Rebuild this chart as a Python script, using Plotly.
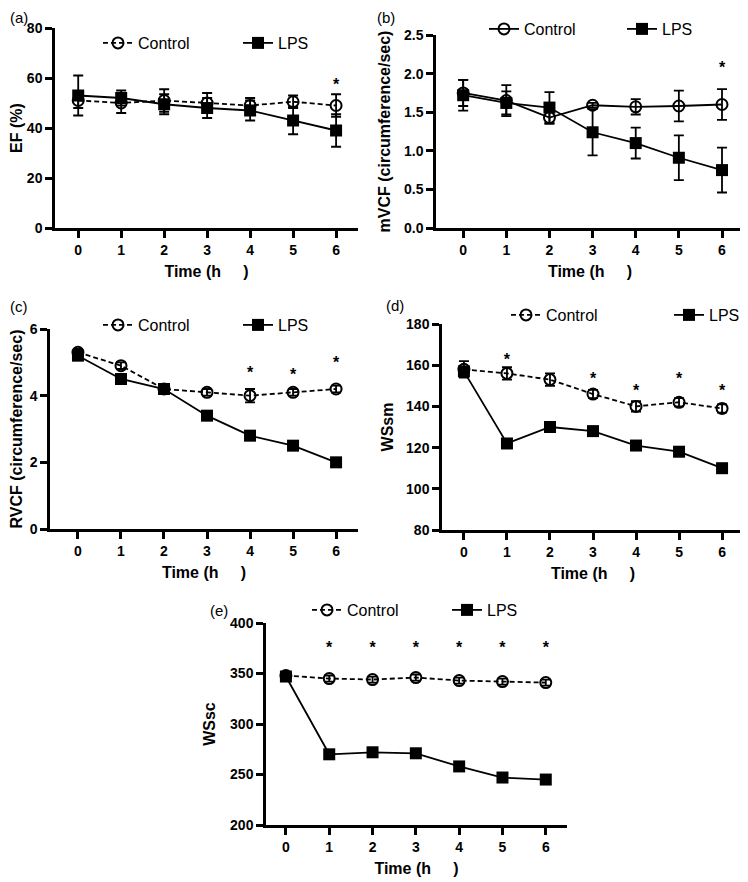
import plotly.graph_objects as go

hours = [0, 1, 2, 3, 4, 5, 6]

# (a) EF
ef_control = [51, 50, 51, 50, 49, 50.5, 49]
ef_control_err = [3, 4, 4.5, 4, 3, 2.5, 4.5]
ef_lps = [53, 52, 49.5, 48, 47, 43, 39]
ef_lps_err = [8, 3, 4, 4, 4, 5.5, 6.5]
ef_star_x = [6]
ef_star_y = [57]

# (b) mVCF
mvcf_control = [1.75, 1.65, 1.43, 1.59, 1.57, 1.58, 1.60]
mvcf_control_err = [0.17, 0.2, 0.08, 0.03, 0.1, 0.2, 0.2]
mvcf_lps = [1.72, 1.62, 1.56, 1.24, 1.10, 0.91, 0.75]
mvcf_lps_err = [0.2, 0.15, 0.2, 0.3, 0.2, 0.29, 0.29]
mvcf_star_x = [6]
mvcf_star_y = [2.06]

# (c) RVCF
rvcf_control = [5.3, 4.9, 4.2, 4.1, 4.0, 4.1, 4.2]
rvcf_control_err = [0.1, 0.1, 0.1, 0.1, 0.2, 0.1, 0.1]
rvcf_lps = [5.2, 4.5, 4.2, 3.4, 2.8, 2.5, 2.0]
rvcf_lps_err = [0.1, 0.1, 0.1, 0.1, 0.1, 0.1, 0.1]
rvcf_star_x = [4, 5, 6]
rvcf_star_y = [4.65, 4.6, 4.95]

# (d) WSsm
wssm_control = [158, 156, 153, 146, 140, 142, 139]
wssm_control_err = [4, 3, 3, 2, 2.5, 2, 2]
wssm_lps = [157, 122, 130, 128, 121, 118, 110]
wssm_lps_err = [2, 2, 2, 2, 2, 2, 2]
wssm_star_x = [1, 3, 4, 5, 6]
wssm_star_y = [162, 153, 147, 153, 147]

# (e) WSsc
wssc_control = [348, 345, 344, 346, 343, 342, 341]
wssc_control_err = [3, 3, 3, 3, 3, 3, 3]
wssc_lps = [347, 270, 272, 271, 258, 247, 245]
wssc_lps_err = [3, 3, 3, 3, 3, 3, 3]
wssc_star_x = [1, 2, 3, 4, 5, 6]
wssc_star_y = [374, 374, 374, 374, 374, 374]

# page has an 8px body margin, so the figure is a bit smaller than the window
PAD = 8
W, H = 748 - PAD, 882 - PAD
FONT = "Arial, Liberation Sans, sans-serif"


def px_x(v):
    return (v - PAD) / W


def px_y(v):
    return 1 - (v - PAD) / H


# box = axis pixels (left, right, top, bottom); leg = (control text x, lps text x, y)
panels = [
    dict(label="(a)", ytitle="EF (%)", control=ef_control, control_err=ef_control_err,
         lps=ef_lps, lps_err=ef_lps_err, star_x=ef_star_x, star_y=ef_star_y,
         yrange=[0, 80], dtick=20, fmt="", dashed=True,
         box=(55, 358, 28, 228), xrange=[-0.54, 6.51], ystand=10,
         leg=(138, 278, 43), lab=(8, 17)),
    dict(label="(b)", ytitle="mVCF (circumference/sec)", control=mvcf_control, control_err=mvcf_control_err,
         lps=mvcf_lps, lps_err=mvcf_lps_err, star_x=mvcf_star_x, star_y=mvcf_star_y,
         yrange=[0, 2.5], dtick=0.5, fmt=".1f", dashed=False,
         box=(436, 744, 35, 228), xrange=[-0.63, 6.51], ystand=10,
         leg=(524, 662, 29), lab=(375, 17)),
    dict(label="(c)", ytitle="RVCF (circumference/sec)", control=rvcf_control, control_err=rvcf_control_err,
         lps=rvcf_lps, lps_err=rvcf_lps_err, star_x=rvcf_star_x, star_y=rvcf_star_y,
         yrange=[0, 6], dtick=2, fmt="", dashed=True,
         box=(50, 358, 329, 529), xrange=[-0.65, 6.51], ystand=9,
         leg=(138, 278, 325), lab=(8, 307)),
    dict(label="(d)", ytitle="WSsm", control=wssm_control, control_err=wssm_control_err,
         lps=wssm_lps, lps_err=wssm_lps_err, star_x=wssm_star_x, star_y=wssm_star_y,
         yrange=[80, 180], dtick=20, fmt="", dashed=True,
         box=(442, 744, 324, 530), xrange=[-0.51, 6.51], ystand=9,
         leg=(546, 709, 315), lab=(384, 305)),
    dict(label="(e)", ytitle="WSsc", control=wssc_control, control_err=wssc_control_err,
         lps=wssc_lps, lps_err=wssc_lps_err, star_x=wssc_star_x, star_y=wssc_star_y,
         yrange=[200, 400], dtick=50, fmt="", dashed=True,
         box=(266, 567, 623, 825), xrange=[-0.46, 6.49], ystand=11,
         leg=(347, 487, 610), lab=(208, 610)),
]

fig = go.Figure()
layout = dict(width=W, height=H, margin=dict(l=0, r=0, t=0, b=0, autoexpand=False),
              paper_bgcolor="white", plot_bgcolor="white",
              font=dict(family=FONT, color="black"), annotations=[])

for i, p in enumerate(panels):
    n = "" if i == 0 else str(i + 1)
    xa, ya = "x" + n, "y" + n
    # one legend per entry so each can sit where the reference has it
    leg_c = "legend" + ("" if i == 0 else str(2 * i + 1))
    leg_l = "legend" + str(2 * i + 2)
    x0, x1, y0, y1 = p["box"]

    fig.add_trace(go.Scatter(
        x=hours, y=p["control"], name="Control", xaxis=xa, yaxis=ya, legend=leg_c,
        mode="lines+markers",
        line=dict(color="black", width=1.8, dash="5px,3px" if p["dashed"] else "solid"),
        marker=dict(symbol="circle-open", size=11, color="black", line=dict(width=2)),
        error_y=dict(type="data", array=p["control_err"], color="black", thickness=1.8, width=5),
    ))
    fig.add_trace(go.Scatter(
        x=hours, y=p["lps"], name="LPS", xaxis=xa, yaxis=ya, legend=leg_l,
        mode="lines+markers",
        line=dict(color="black", width=1.8),
        marker=dict(symbol="square", size=12, color="black"),
        error_y=dict(type="data", array=p["lps_err"], color="black", thickness=1.8, width=5),
    ))
    fig.add_trace(go.Scatter(
        x=p["star_x"], y=p["star_y"], xaxis=xa, yaxis=ya, mode="text",
        text=["*"] * len(p["star_x"]), textfont=dict(size=16, color="black", weight="bold"),
        showlegend=False, hoverinfo="skip",
    ))

    layout["xaxis" + n] = dict(
        domain=[px_x(x0), px_x(x1)], range=p["xrange"], anchor=ya, automargin=False,
        tickvals=hours, showline=True, linewidth=2.5, linecolor="black",
        ticks="outside", ticklen=7, tickwidth=2.5, tickcolor="black",
        showgrid=False, zeroline=False,
        tickfont=dict(size=14, weight="bold"),
        title=dict(text="Time (h\u00a0\u00a0\u00a0\u00a0\u00a0)", font=dict(size=16, weight="bold"), standoff=10),
    )
    layout["yaxis" + n] = dict(
        domain=[px_y(y1), px_y(y0)], range=p["yrange"], anchor=xa, automargin=False,
        dtick=p["dtick"], tick0=p["yrange"][0], tickformat=p["fmt"],
        showline=True, linewidth=2.5, linecolor="black",
        ticks="outside", ticklen=7, tickwidth=2.5, tickcolor="black",
        showgrid=False, zeroline=False,
        tickfont=dict(size=14, weight="bold"),
        title=dict(text=p["ytitle"], font=dict(size=16, weight="bold"), standoff=p["ystand"]),
    )
    cx, lx, ly = p["leg"]
    for key, tx in ((leg_c, cx), (leg_l, lx)):
        layout[key] = dict(
            x=px_x(tx - 40), y=px_y(ly), xanchor="left", yanchor="middle",
            orientation="h", bgcolor="rgba(0,0,0,0)", borderwidth=0,
            font=dict(size=16, family=FONT, color="black"),
        )
    layout["annotations"].append(dict(
        text=p["label"], x=px_x(p["lab"][0]), y=px_y(p["lab"][1]),
        xref="paper", yref="paper", xanchor="left", yanchor="middle",
        showarrow=False, font=dict(size=15, color="black"),
    ))

fig.update_layout(**layout)
fig.write_html("out.html")
